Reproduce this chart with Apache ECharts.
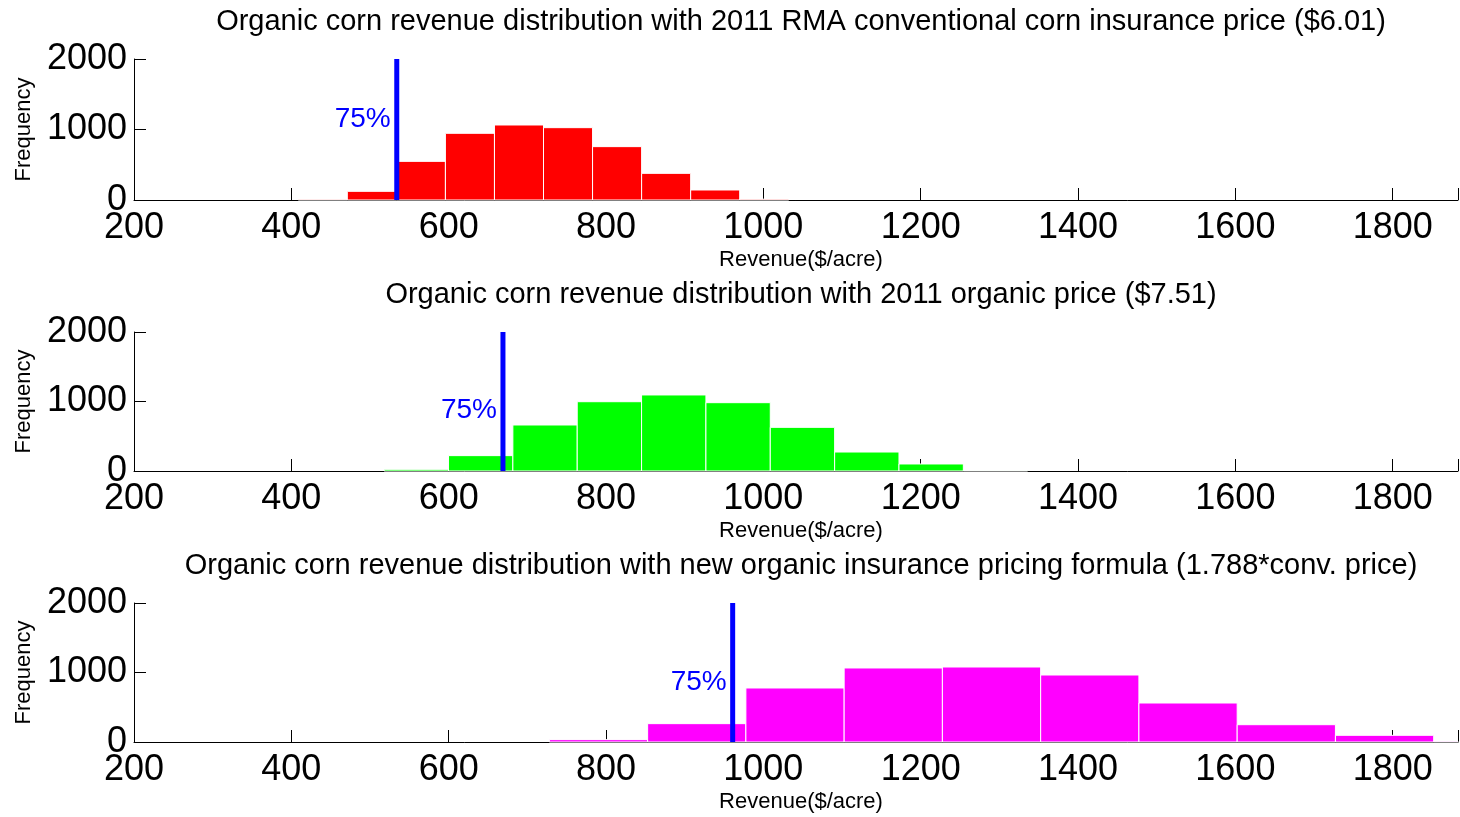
<!DOCTYPE html>
<html>
<head>
<meta charset="utf-8">
<script src="https://cdn.jsdelivr.net/npm/echarts@6/dist/echarts.min.js"></script>
<style>
html, body { margin: 0; padding: 0; background: #fff; }
#main { width: 1460px; height: 817px; }
</style>
</head>
<body>
<div id="main"></div>
<script>
// titles of the three panels
var titles = [
	'Organic corn revenue distribution with 2011 RMA conventional corn insurance price ($6.01)',
	'Organic corn revenue distribution with 2011 organic price ($7.51)',
	'Organic corn revenue distribution with new organic insurance pricing formula (1.788*conv. price)'
];
// first bin edge and bin width of each histogram
var binStart = [408.8, 518, 728];
var binWidth = [62.35, 81.8, 124.9];
// bin counts
var countsConv = [10, 123, 548, 946, 1064, 1026, 757, 378, 142, 12];
var countsOrganic = [24, 221, 662, 997, 1094, 983, 628, 273, 101, 8];
var countsFormula = [34, 264, 777, 1065, 1079, 964, 561, 249, 96, 10];
// 75% coverage lines
var coverage = [534, 669, 961];
var coverageLabelY = [1140, 880, 860];
var coverageText = '75%';

var counts = [countsConv, countsOrganic, countsFormula];
var colors = ['#ff0000', '#00ff00', '#ff00ff'];
var FONT = '"Liberation Sans", Arial, Helvetica, sans-serif';

var chart = echarts.init(document.getElementById('main'));

var gridTops = [59, 332, 603];
var gridHeights = [141, 139, 139];

var grid = [], xAxis = [], yAxis = [], series = [], title = [];
for (var i = 0; i < 3; i++) {
	grid.push({
		left: 134, width: 1324, top: gridTops[i], height: gridHeights[i],
		containLabel: false,
		outerBoundsMode: 'none'
	});
	title.push({
		text: titles[i],
		left: 801,
		top: gridTops[i] - 52,
		textAlign: 'center',
		padding: 0,
		textStyle: { fontFamily: FONT, fontSize: 29, fontWeight: 'normal', color: '#000' }
	});
	xAxis.push({
		gridIndex: i,
		type: 'value',
		min: 200,
		max: 1883,
		interval: 200,
		name: 'Revenue($/acre)',
		nameLocation: 'middle',
		nameGap: 49,
		nameTextStyle: { fontFamily: FONT, fontSize: 22, color: '#000', padding: [0, 0, 0, 10] },
		axisLine: { show: true, lineStyle: { color: '#000', width: 1 } },
		axisTick: { show: true, inside: true, length: 12, lineStyle: { color: '#000' } },
		axisLabel: {
			fontFamily: FONT, fontSize: 36, color: '#000', margin: 10,
			formatter: function (v) { return v % 200 === 0 ? String(v) : ''; }
		},
		splitLine: { show: false }
	});
	yAxis.push({
		gridIndex: i,
		type: 'value',
		min: 0,
		max: 2000,
		interval: 1000,
		name: 'Frequency',
		nameLocation: 'middle',
		nameGap: 99,
		nameTextStyle: { fontFamily: FONT, fontSize: 22, color: '#000' },
		axisLine: { show: true, lineStyle: { color: '#000', width: 1 } },
		axisTick: { show: true, inside: true, length: 12, lineStyle: { color: '#000' } },
		axisLabel: {
			fontFamily: FONT, fontSize: 36, color: '#000', margin: 7,
			formatter: function (v) { return String(v); }
		},
		splitLine: { show: false }
	});

	// histogram bins [lo, hi, count]
	var bins = [];
	for (var j = 0; j < counts[i].length; j++) {
		var lo = binStart[i] + j * binWidth[i];
		bins.push([lo, lo + binWidth[i], counts[i][j]]);
	}
	(function (fill) {
		series.push({
			type: 'custom',
			xAxisIndex: i,
			yAxisIndex: i,
			silent: true,
			encode: { x: [0, 1], y: 2 },
			data: bins,
			renderItem: function (params, api) {
				var p0 = api.coord([api.value(0), api.value(2)]);
				var p1 = api.coord([api.value(1), 0]);
				var right = params.coordSys.x + params.coordSys.width;
				var x1 = Math.min(p1[0], right);
				return {
					type: 'rect',
					shape: { x: p0[0], y: p0[1], width: x1 - p0[0], height: p1[1] - p0[1] },
					style: { fill: fill, stroke: '#ffffff', lineWidth: 1 }
				};
			}
		});
	})(colors[i]);

	series.push({
		type: 'line',
		xAxisIndex: i,
		yAxisIndex: i,
		silent: true,
		z: 5,
		symbol: 'none',
		lineStyle: { color: '#0000ff', width: 5 },
		data: [[coverage[i], 0], [coverage[i], 2000]]
	});
	series.push({
		type: 'scatter',
		xAxisIndex: i,
		yAxisIndex: i,
		silent: true,
		z: 6,
		symbolSize: 0,
		data: [[coverage[i], coverageLabelY[i]]],
		label: {
			show: true,
			position: 'left',
			distance: 6,
			formatter: coverageText,
			fontFamily: FONT,
			fontSize: 28,
			color: '#0000ff',
			opacity: 1
		}
	});
}

chart.setOption({
	backgroundColor: '#fff',
	animation: false,
	title: title,
	grid: grid,
	xAxis: xAxis,
	yAxis: yAxis,
	series: series
});
</script>
</body>
</html>
